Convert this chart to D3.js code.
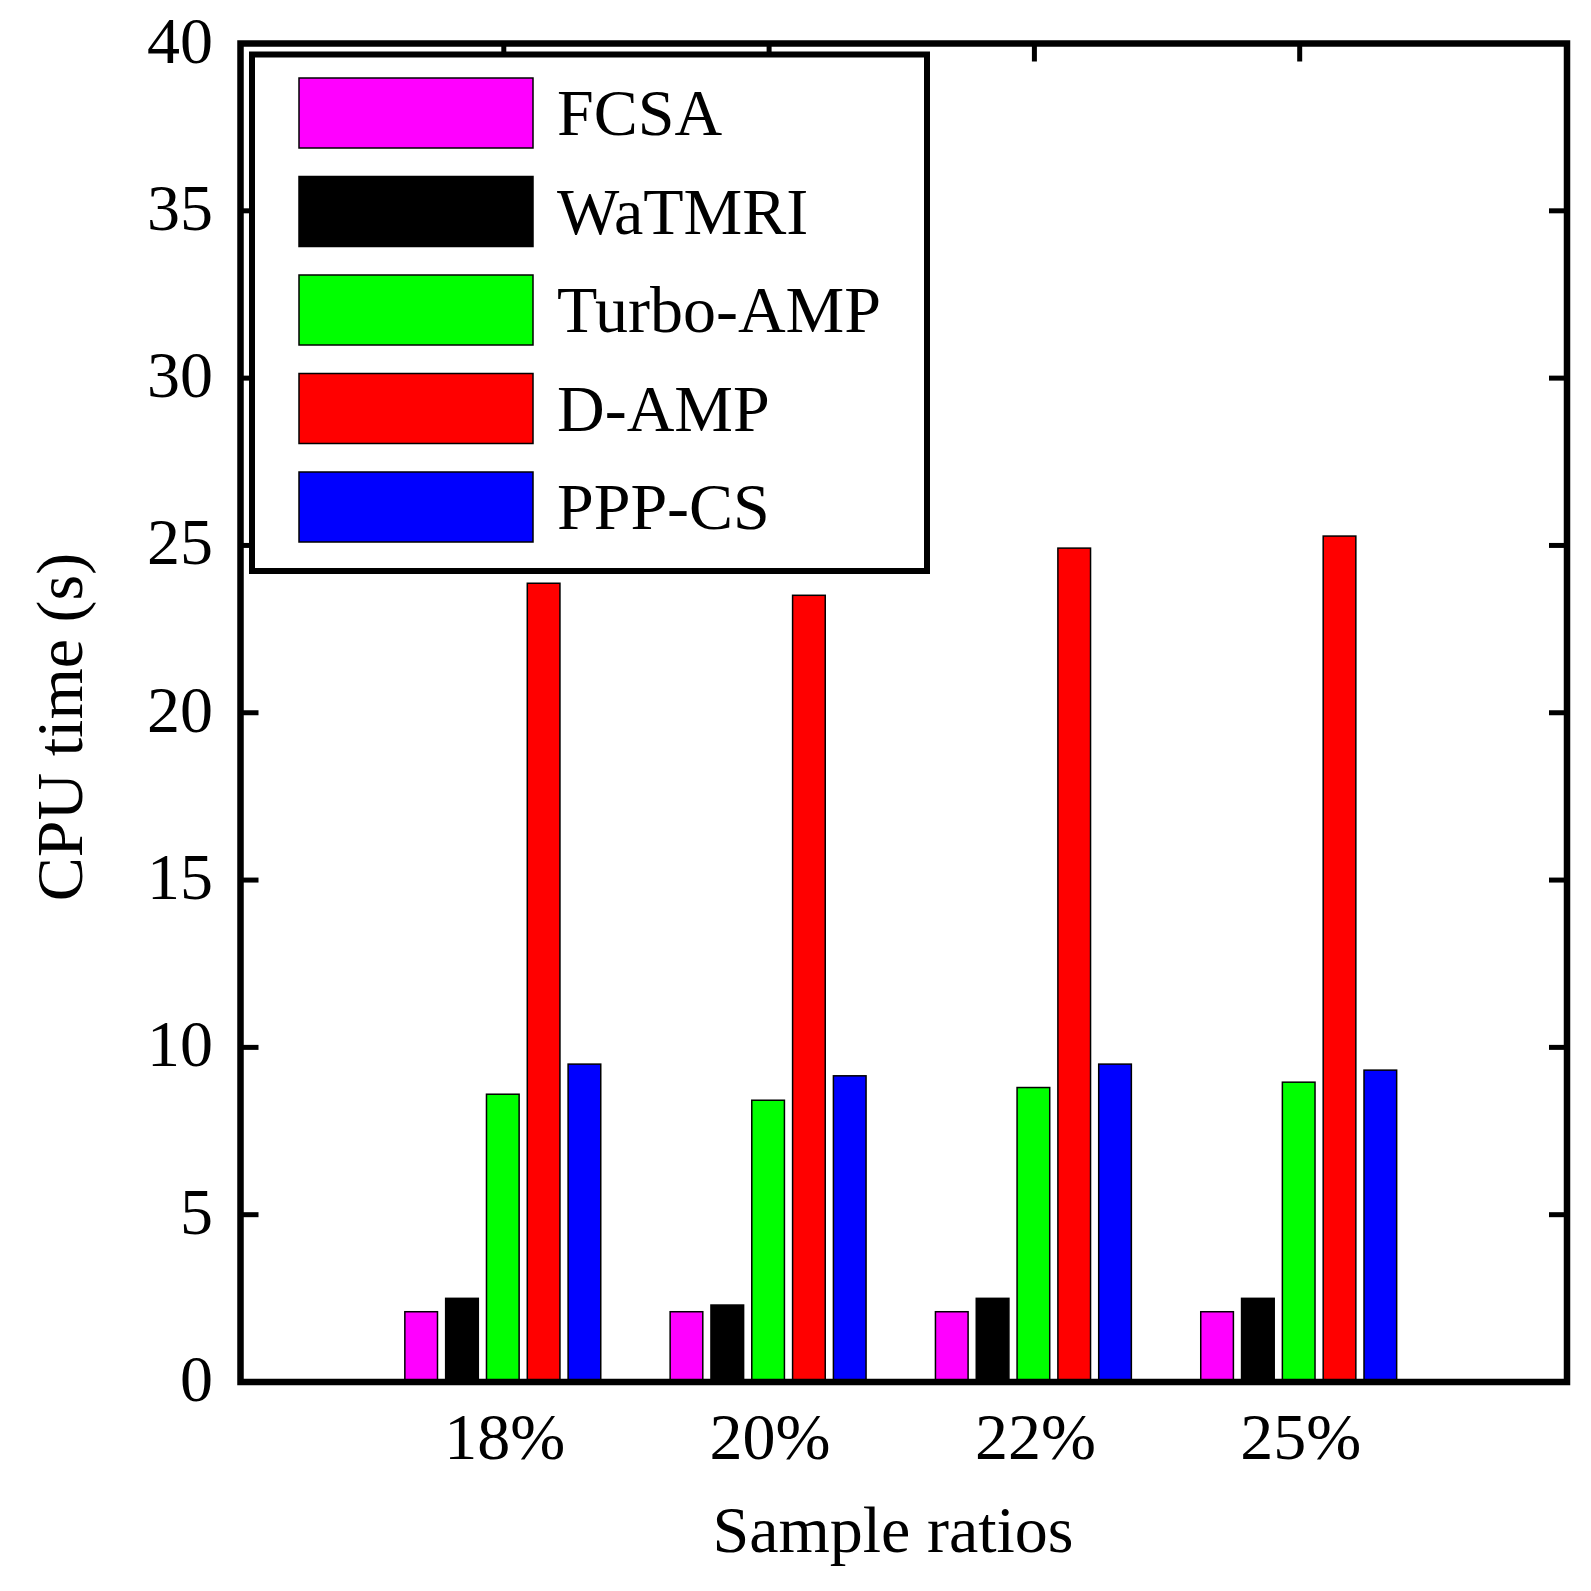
<!DOCTYPE html>
<html>
<head>
<meta charset="utf-8">
<script src="https://cdn.jsdelivr.net/npm/d3@7"></script>
<style>
  body { margin: 0; background: #fff; }
  svg { display: block; }
  text { font-family: "Liberation Serif", "Times New Roman", serif; fill: #000; }
</style>
</head>
<body>
<svg id="chart" width="1591" height="1591"></svg>
<script>
(function() {

	// DATA
	var categories = ['18%', '20%', '22%', '25%'];
	var seriesNames = ['FCSA', 'WaTMRI', 'Turbo-AMP', 'D-AMP', 'PPP-CS'];
	var fcsa = [2.1, 2.1, 2.1, 2.1];
	var watmri = [2.5, 2.3, 2.5, 2.5];
	var turboAmp = [8.6, 8.42, 8.8, 8.96];
	var dAmp = [23.87, 23.51, 24.92, 25.28];
	var pppCs = [9.5, 9.15, 9.5, 9.32];
	var yTicks = [0, 5, 10, 15, 20, 25, 30, 35, 40];

	var colors = ['#ff00ff', '#000000', '#00ff00', '#ff0000', '#0000ff'];
	var series = [fcsa, watmri, turboAmp, dAmp, pppCs];

	// LAYOUT
	var margin = { left: 240.5, right: 1567, top: 43.5, bottom: 1382 };
	var svg = d3.select('#chart');

	var x = d3.scaleLinear().domain([0, categories.length + 1]).range([margin.left, margin.right]);
	var y = d3.scaleLinear().domain([0, 40]).range([margin.bottom, margin.top]);

	var nb = series.length;
	var groupWidth = Math.min(0.8, nb / (nb + 1.5));
	var step = groupWidth / nb;
	var barW = step * 0.8;
	var barShift = -3;

	// ticks (inward, all four sides)
	var tickLen = 18;
	var g = svg.append('g').attr('class', 'ticks');
	yTicks.forEach(function(t) {
		g.append('line').attr('x1', margin.left).attr('x2', margin.left + tickLen)
			.attr('y1', y(t)).attr('y2', y(t)).attr('stroke', '#000').attr('stroke-width', 5);
		g.append('line').attr('x1', margin.right).attr('x2', margin.right - tickLen)
			.attr('y1', y(t)).attr('y2', y(t)).attr('stroke', '#000').attr('stroke-width', 5);
	});
	categories.forEach(function(c, i) {
		g.append('line').attr('x1', x(i + 1) - 2).attr('x2', x(i + 1) - 2)
			.attr('y1', margin.top).attr('y2', margin.top + tickLen).attr('stroke', '#000').attr('stroke-width', 5);
		g.append('line').attr('x1', x(i + 1) - 2).attr('x2', x(i + 1) - 2)
			.attr('y1', margin.bottom).attr('y2', margin.bottom - tickLen).attr('stroke', '#000').attr('stroke-width', 5);
	});

	// bars
	series.forEach(function(vals, s) {
		svg.append('g').selectAll('rect')
			.data(vals)
			.enter().append('rect')
			.attr('x', function(d, i) { return x(i + 1 + (s - (nb - 1) / 2) * step - barW / 2) + barShift; })
			.attr('width', x(barW) - x(0))
			.attr('y', function(d) { return y(d); })
			.attr('height', function(d) { return y(0) - y(d); })
			.attr('fill', colors[s])
			.attr('stroke', '#000')
			.attr('stroke-width', 1.5);
	});

	// frame
	svg.append('rect')
		.attr('x', margin.left).attr('y', margin.top)
		.attr('width', margin.right - margin.left).attr('height', margin.bottom - margin.top)
		.attr('fill', 'none').attr('stroke', '#000').attr('stroke-width', 6.5);

	// tick labels
	yTicks.forEach(function(t) {
		svg.append('text').attr('x', 213).attr('y', y(t) + 19)
			.attr('text-anchor', 'end').attr('font-size', 66).text(t);
	});
	categories.forEach(function(c, i) {
		svg.append('text').attr('x', x(i + 1) - 1).attr('y', 1459)
			.attr('text-anchor', 'middle').attr('font-size', 66).text(c);
	});

	// axis labels
	svg.append('text').attr('x', 893).attr('y', 1552)
		.attr('text-anchor', 'middle').attr('font-size', 66).text('Sample ratios');
	svg.append('text')
		.attr('transform', 'translate(82,727)rotate(-90)')
		.attr('text-anchor', 'middle').attr('font-size', 66).text('CPU time (s)');

	// legend
	var legend = svg.append('g').attr('class', 'legend');
	legend.append('rect')
		.attr('x', 252).attr('y', 54.5).attr('width', 675).attr('height', 516.5)
		.attr('fill', '#fff').attr('stroke', '#000').attr('stroke-width', 6);
	var rowY = d3.scaleLinear().domain([0, 4]).range([113, 507]);
	seriesNames.forEach(function(name, i) {
		legend.append('rect')
			.attr('x', 299).attr('y', rowY(i) - 35).attr('width', 234).attr('height', 70)
			.attr('fill', colors[i]).attr('stroke', '#000').attr('stroke-width', 1.5);
		legend.append('text')
			.attr('x', 557).attr('y', rowY(i) + 22)
			.attr('font-size', 66).text(name);
	});
})();
</script>
</body>
</html>
